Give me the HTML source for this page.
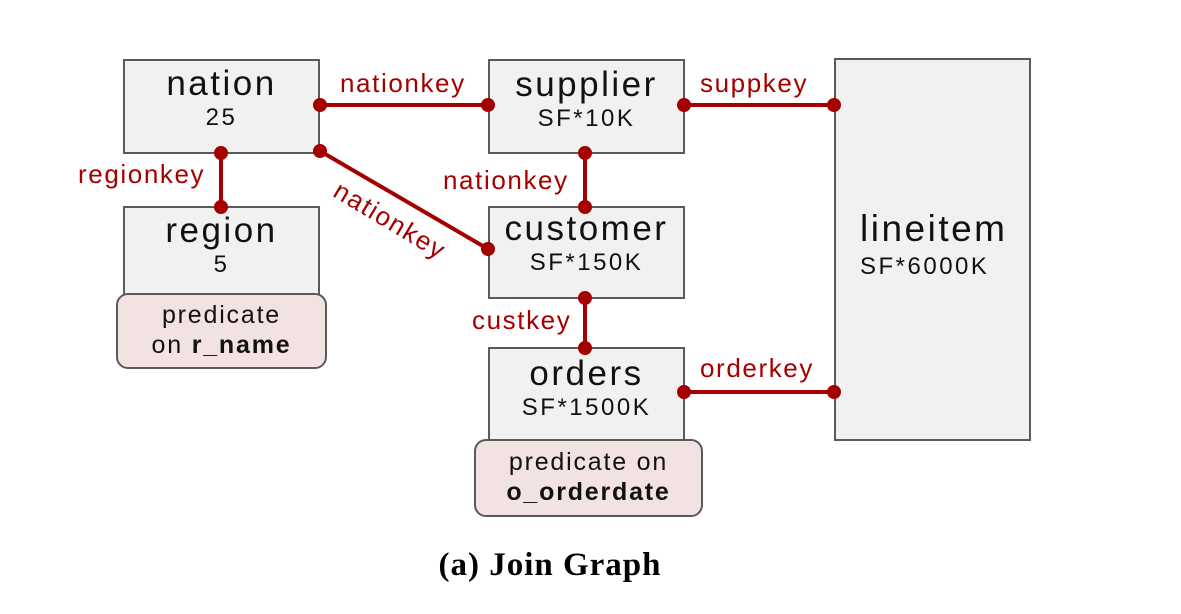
<!DOCTYPE html>
<html><head><style>
body{margin:0;width:1181px;height:614px;background:#fff;position:relative;font-family:"Liberation Sans",sans-serif;overflow:hidden}
.n{position:absolute;background:#f1f1f1;border:2px solid #5a5a5a;box-sizing:border-box;text-align:center;color:#111}
.t{font-size:35px;line-height:38px;letter-spacing:2.5px}
.s{font-size:24px;line-height:30px;letter-spacing:2.5px}
.p{position:absolute;background:#f3e2e2;border:2px solid #5a5a5a;border-radius:12px;box-sizing:border-box;text-align:center;font-size:25px;line-height:30px;color:#111;letter-spacing:1.8px}
.l{position:absolute;color:#a50000;font-size:26px;white-space:nowrap;letter-spacing:1.6px}
.cap{position:absolute;left:0;width:1100px;top:547px;text-align:center;font-family:"Liberation Serif",serif;font-weight:bold;font-size:33px;letter-spacing:1px}
</style></head><body>
<div class="n" style="left:123px;top:59px;width:197px;height:95px;padding-top:4px"><div class="t">nation</div><div class="s">25</div></div>
<div class="n" style="left:123px;top:206px;width:197px;height:90px;padding-top:4px"><div class="t">region</div><div class="s">5</div></div>
<div class="p" style="left:116px;top:293px;width:211px;height:76px;padding-top:5px">predicate<br>on <b>r_name</b></div>
<div class="n" style="left:488px;top:59px;width:197px;height:95px;padding-top:5px"><div class="t">supplier</div><div class="s">SF*10K</div></div>
<div class="n" style="left:488px;top:206px;width:197px;height:93px;padding-top:2px"><div class="t">customer</div><div class="s">SF*150K</div></div>
<div class="n" style="left:488px;top:347px;width:197px;height:95px;padding-top:6px"><div class="t">orders</div><div class="s">SF*1500K</div></div>
<div class="p" style="left:474px;top:439px;width:229px;height:78px;padding-top:6px">predicate on<br><b>o_orderdate</b></div>
<div class="n" style="left:834px;top:58px;width:197px;height:383px;text-align:left;padding:150px 0 0 24px"><div class="t" style="font-size:37px">lineitem</div><div class="s" style="margin-top:4px">SF*6000K</div></div>
<svg style="position:absolute;left:0;top:0" width="1181" height="614">
<g stroke="#a50000" stroke-width="4" fill="#a50000">
<line x1="320" y1="105" x2="488" y2="105"/><circle cx="320" cy="105" r="5"/><circle cx="488" cy="105" r="5"/>
<line x1="320" y1="151" x2="488" y2="249"/><circle cx="320" cy="151" r="5"/><circle cx="488" cy="249" r="5"/>
<line x1="221" y1="153" x2="221" y2="207"/><circle cx="221" cy="153" r="5"/><circle cx="221" cy="207" r="5"/>
<line x1="585" y1="153" x2="585" y2="207"/><circle cx="585" cy="153" r="5"/><circle cx="585" cy="207" r="5"/>
<line x1="585" y1="298" x2="585" y2="348"/><circle cx="585" cy="298" r="5"/><circle cx="585" cy="348" r="5"/>
<line x1="684" y1="105" x2="834" y2="105"/><circle cx="684" cy="105" r="5"/><circle cx="834" cy="105" r="5"/>
<line x1="684" y1="392" x2="834" y2="392"/><circle cx="684" cy="392" r="5"/><circle cx="834" cy="392" r="5"/>
</g></svg>
<div class="l" style="left:344px;top:175px;transform:rotate(31deg);transform-origin:0 0">nationkey</div>
<div class="l" style="left:340px;top:68px">nationkey</div>
<div class="l" style="left:78px;top:159px">regionkey</div>
<div class="l" style="left:443px;top:165px">nationkey</div>
<div class="l" style="left:472px;top:305px">custkey</div>
<div class="l" style="left:700px;top:68px">suppkey</div>
<div class="l" style="left:700px;top:353px">orderkey</div>
<div class="cap">(a) Join Graph</div>
</body></html>
